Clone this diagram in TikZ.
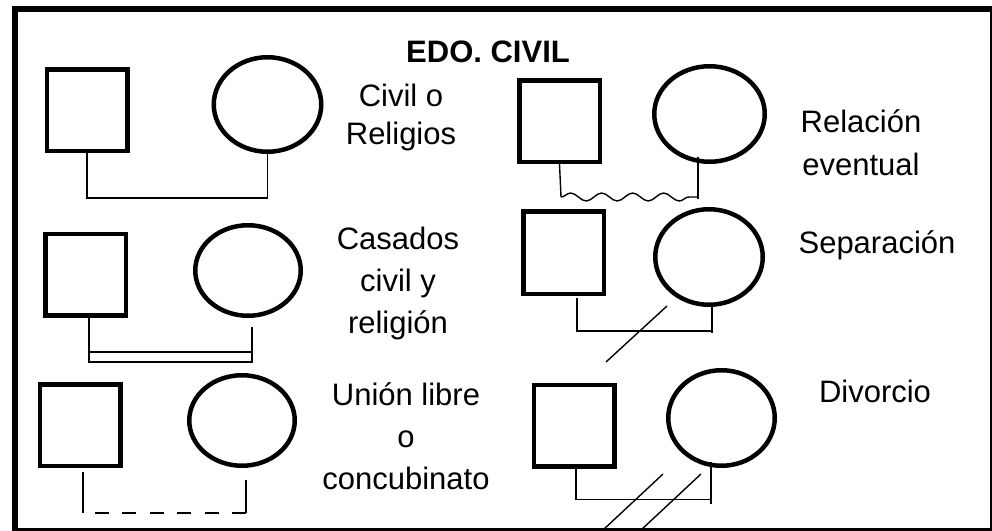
\documentclass[tikz,border=0pt]{standalone}
\usepackage{fontspec}
\setmainfont{Liberation Sans}
\usepackage{tikz}
\usetikzlibrary{calc, shapes.geometric, decorations.pathmorphing}

\begin{document}
\begin{tikzpicture}[x=1pt, y=-1pt,
    varon/.style={draw, line width=4.5pt, inner sep=0pt, minimum width=80.5pt, minimum height=81.5pt},
    mujer/.style={draw, ellipse, line width=4.5pt, inner sep=0pt, minimum width=106.5pt, minimum height=94.5pt},
    lazo/.style={line width=1.4pt},
    rotulo/.style={align=center, inner sep=0pt, anchor=base, font={\fontsize{31}{42}\selectfont}}]
  \path[use as bounding box] (0,0) rectangle (992,530);
  \begin{scope}
    \clip (0,0) rectangle (992,530);
    \draw[line width=6pt] (14.5,8.5) rectangle (992.5,530.5);
  \end{scope}

  \node[rotulo] (t0) at (488,62) {\bfseries EDO. CIVIL};

  \node[varon] (s1) at (87,110) {};
  \node[mujer, minimum width=107.5pt] (c1) at (267.5,104.5) {};
  \node[rotulo] (t1) at (401,144) {Civil o\\[-4pt]Religios};
  \draw[lazo] (s1.south) -- ++(0,45) -| (c1.south);

  \node[varon] (s2) at (559.5,121) {};
  \node[mujer, minimum width=110.5pt, minimum height=95.5pt] (c2) at (709.5,114) {};
  \node[rotulo] (t2) at (861,175) {Relación\\[1pt]eventual};
  \coordinate (w1) at ($(s2.south)+(1.5,33)$);
  \coordinate (w2) at ($(c2.south)+(-11.5,33)$);
  \draw[lazo] (s2.south) -- (w1);
  \draw[lazo] ($(c2.south)+(-11.5,-7)$) -- ($(c2.south)+(-11.5,35)$);
  \draw[lazo, decorate, decoration={snake, amplitude=4pt, segment length=31pt}] (w1) -- (w2);

  \node[varon] (s3) at (85.5,274.5) {};
  \node[mujer, minimum width=105.5pt, minimum height=90.5pt] (c3) at (248,270.5) {};
  \node[rotulo] (t3) at (398,333) {Casados\\civil y\\religión};
  \draw[lazo] ($(s3.south)+(3.5,0)$) |- ($(c3.south)+(4,44)$) -- ($(c3.south)+(4,9)$);
  \draw[lazo] ($(s3.south)+(3.5,34.5)$) -- ($(c3.south)+(4,34)$);

  \node[varon] (s4) at (80,425) {};
  \node[mujer, minimum width=105.5pt, minimum height=90.5pt] (c4) at (242,420.5) {};
  \node[rotulo] (t4) at (406,489) {Unión libre\\o\\concubinato};
  \draw[lazo] ($(s4.south)+(3,4)$) -- ($(s4.south)+(3,45)$);
  \draw[lazo] ($(c4.south)+(4,12)$) -- ($(c4.south)+(4,45)$);
  \draw[lazo, dash pattern=on 14pt off 13.5pt] ($(c4.south)+(4,45)$) -- ($(s4.south)+(3,45)$);

  \node[varon, minimum height=82.5pt] (s5) at (563.5,252.5) {};
  \node[mujer, minimum width=107.5pt, minimum height=95.5pt] (c5) at (709,257) {};
  \node[rotulo] (t5) at (877,253) {Separación};
  \draw[lazo] ($(s5.south)+(13.5,2)$) |- ($(c5.south)+(3,24)$);
  \draw[lazo] (c5.south) ++(3,0) -- ++(0,26);
  \draw[lazo] ($(c5.south)+(-42,-1)$) -- ($(c5.south)+(-103,55)$);

  \node[varon] (s6) at (574,425.5) {};
  \node[mujer, minimum width=106.5pt, minimum height=95.5pt] (c6) at (721.5,418) {};
  \node[rotulo] (t6) at (875,402) {Divorcio};
  \draw[lazo] ($(s6.south)+(2,0)$) |- ($(c6.south)+(-10.5,31.5)$);
  \draw[lazo] ($(c6.south)+(-10.5,-6)$) -- ($(c6.south)+(-10.5,36)$);
  \draw[lazo] ($(c6.south)+(-58.5,6)$) -- ($(c6.south)+(-118.5,62)$);
  \draw[lazo] ($(c6.south)+(-20.5,6)$) -- ($(c6.south)+(-80.5,62)$);
\end{tikzpicture}
\end{document}
